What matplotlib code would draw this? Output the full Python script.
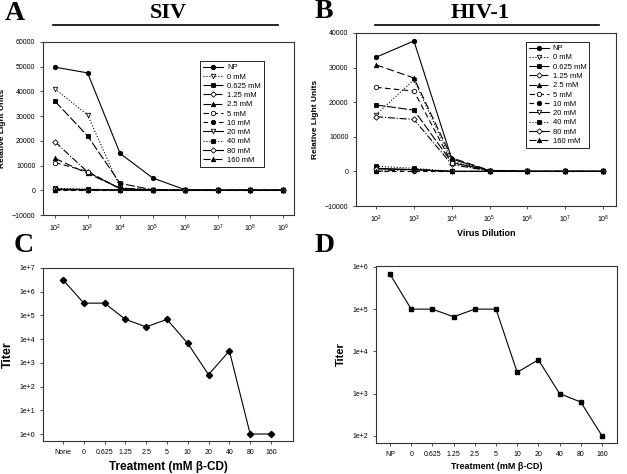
import matplotlib
matplotlib.use("Agg")
import math
import matplotlib.pyplot as plt
from matplotlib.lines import Line2D

plt.rcParams['font.family'] = ['Liberation Sans', 'DejaVu Sans']

# --- donnees ---
series_names = ["NP", "0 mM", "0.625 mM", "1.25 mM", "2.5 mM", "5 mM",
                "10 mM", "20 mM", "40 mM", "80 mM", "160 mM"]

# SIV : dilutions 1e2 .. 1e9
siv_dil = [1e2, 1e3, 1e4, 1e5, 1e6, 1e7, 1e8, 1e9]
siv_np = [49800, 47500, 14900, 5000, 200, 0, 0, 0]
siv_0 = [41000, 30500, 1000, 200, 0, 0, 0, 0]
siv_0625 = [36000, 22000, 2800, 200, 0, 0, 0, 0]
siv_125 = [19600, 7400, 600, 100, 0, 0, 0, 0]
siv_25 = [12900, 6800, 900, 100, 0, 0, 0, 0]
siv_5 = [11200, 7600, 700, 100, 0, 0, 0, 0]
siv_10 = [0, 0, 0, 0, 0, 0, 0, 0]
siv_20 = [500, 300, 100, 0, 0, 0, 0, 0]
siv_40 = [800, 500, 100, 0, 0, 0, 0, 0]
siv_80 = [400, 200, 100, 0, 0, 0, 0, 0]
siv_160 = [200, 100, 0, 0, 0, 0, 0, 0]

# HIV-1 : dilutions 1e2 .. 1e8
hiv_dil = [1e2, 1e3, 1e4, 1e5, 1e6, 1e7, 1e8]
hiv_np = [33000, 37700, 3600, 200, 0, 0, 0]
hiv_0 = [16400, 26500, 3000, 200, 0, 0, 0]
hiv_0625 = [19200, 17700, 2600, 200, 0, 0, 0]
hiv_125 = [15800, 15000, 2000, 100, 0, 0, 0]
hiv_25 = [30800, 27000, 3900, 300, 0, 0, 0]
hiv_5 = [24300, 23200, 2500, 200, 0, 0, 0]
hiv_10 = [0, 0, 0, 0, 0, 0, 0]
hiv_20 = [900, 500, 0, 0, 0, 0, 0]
hiv_40 = [1500, 900, 0, 0, 0, 0, 0]
hiv_80 = [700, 500, 0, 0, 0, 0, 0]
hiv_160 = [0, 600, 0, 0, 0, 0, 0]

# titres
siv_treat = ["None", "0", "0.625", "1.25", "2.5", "5", "10", "20", "40", "80", "160"]
siv_titer = [3.2e6, 3.3e5, 3.3e5, 6.8e4, 3.3e4, 6.8e4, 6.6e3, 3.2e2, 3.2e3, 1, 1]
hiv_treat = ["NP", "0", "0.625", "1.25", "2.5", "5", "10", "20", "40", "80", "160"]
hiv_titer = [6.7e5, 1e5, 1e5, 6.6e4, 1e5, 1e5, 3.2e3, 6.3e3, 1e3, 6.3e2, 1e2]

# styles (marqueur, remplissage, trait)
styles = [("o", "k", "-"), ("v", "w", ":"), ("s", "k", (0, (8, 2))),
          ("D", "w", "-."), ("^", "k", (0, (7, 3))), ("o", "w", (0, (5, 3))),
          ("o", "k", (0, (4, 3))), ("v", "w", "-"), ("s", "k", ":"),
          ("D", "w", "-"), ("^", "k", "-.")]

fig = plt.figure(figsize=(6.27, 4.74), dpi=100)

tick_fs = 5


def style_axes(ax):
    for s in ax.spines.values():
        s.set_linewidth(0.8)
        s.set_color("#333333")
    ax.tick_params(labelsize=tick_fs, length=2.5, width=0.6, color="#333333", pad=3)
    ax.tick_params(which="minor", length=0)


def light_panel(ax, x, data, ylim, xlim, legpos):
    for name, y, (m, fc, ls) in zip(series_names, data, styles):
        ms = 3.2 if m != "D" else 2.8
        ax.plot(x, y, color="k", linestyle=ls, linewidth=0.8, marker=m,
                markersize=ms, markerfacecolor=fc, markeredgecolor="k",
                markeredgewidth=0.6, label=name)
    ax.set_xscale("log")
    ax.set_xlim(*xlim)
    ax.set_ylim(*ylim)
    ax.set_xticks(x)
    ax.set_ylabel("Relative Light Units", fontsize=6, fontweight="bold", labelpad=4)
    leg = ax.legend(loc="upper right", bbox_to_anchor=legpos, fontsize=5.5,
                    fancybox=False, framealpha=1, edgecolor="k",
                    handlelength=2.6, labelspacing=0.25, borderpad=0.4,
                    handletextpad=0.5)
    leg.get_frame().set_linewidth(0.6)
    style_axes(ax)


axA = fig.add_axes([0.0686, 0.5464, 0.400, 0.365])
light_panel(axA, siv_dil,
            [siv_np, siv_0, siv_0625, siv_125, siv_25, siv_5, siv_10,
             siv_20, siv_40, siv_80, siv_160],
            (-10000, 60000), (10 ** 1.63, 10 ** 9.34), (0.896, 0.913))
axA.set_yticks(range(-10000, 60001, 10000))

axB = fig.add_axes([0.5678, 0.5654, 0.4147, 0.365])
light_panel(axB, hiv_dil,
            [hiv_np, hiv_0, hiv_0625, hiv_125, hiv_25, hiv_5, hiv_10,
             hiv_20, hiv_40, hiv_80, hiv_160],
            (-10000, 40000), (10 ** 1.47, 10 ** 8.34), (0.912, 0.971))
axB.set_yticks(range(-10000, 40001, 10000))
axB.set_xlabel("Virus Dilution", fontsize=6.5, fontweight="bold", labelpad=3)


def titer_fmt(v):
    return "1e+%d" % round(math.log10(v))


axC = fig.add_axes([0.0686, 0.0696, 0.3987, 0.365])
xc = range(len(siv_treat))
axC.plot(xc, siv_titer, color="k", linewidth=0.8, marker="D", markersize=3.2)
axC.set_yscale("log")
axC.set_ylim(10 ** -0.295, 1e7)
axC.set_xlim(-0.96, 11.06)
axC.set_xticks(list(xc))
axC.set_xticklabels(siv_treat)
c_ticks = [10 ** k for k in range(0, 8)]
axC.set_yticks(c_ticks)
axC.set_yticklabels([titer_fmt(v) for v in c_ticks])
axC.set_ylabel("Titer", fontsize=9, fontweight="bold", labelpad=4)
axC.set_xlabel("Treatment (mM \u03b2-CD)", fontsize=8.5, fontweight="bold", labelpad=4)
style_axes(axC)

axD = fig.add_axes([0.5997, 0.0654, 0.3844, 0.3734])
xd = range(len(hiv_treat))
axD.plot(xd, hiv_titer, color="k", linewidth=0.8, marker="s", markersize=3.2)
axD.set_yscale("log")
axD.set_ylim(10 ** 1.83, 1.05e6)
axD.set_xlim(-0.66, 10.71)
axD.set_xticks(list(xd))
axD.set_xticklabels(hiv_treat)
d_ticks = [10 ** k for k in range(2, 7)]
axD.set_yticks(d_ticks)
axD.set_yticklabels([titer_fmt(v) for v in d_ticks])
axD.set_ylabel("Titer", fontsize=8, fontweight="bold", labelpad=5)
axD.set_xlabel("Treatment (mM \u03b2-CD)", fontsize=6.5, fontweight="bold", labelpad=3)
style_axes(axD)

# lettres et titres
serif = ["Liberation Serif", "DejaVu Serif"]
for lab, x, y in [("A", 0.008, 0.945), ("B", 0.502, 0.950), ("C", 0.022, 0.455), ("D", 0.502, 0.455)]:
    fig.text(x, y, lab, fontsize=20, fontweight="bold", family=serif, va="bottom")
fig.text(0.268, 0.952, "SIV", fontsize=16, fontweight="bold", family=serif,
         ha="center", va="bottom")
fig.text(0.766, 0.952, "HIV-1", fontsize=16, fontweight="bold", family=serif,
         ha="center", va="bottom")
fig.add_artist(Line2D([53 / 627, 278 / 627], [1 - 25 / 474] * 2, color="k", linewidth=1.2))
fig.add_artist(Line2D([375 / 627, 599 / 627], [1 - 25 / 474] * 2, color="k", linewidth=1.2))

fig.savefig("out.png", dpi=100)
